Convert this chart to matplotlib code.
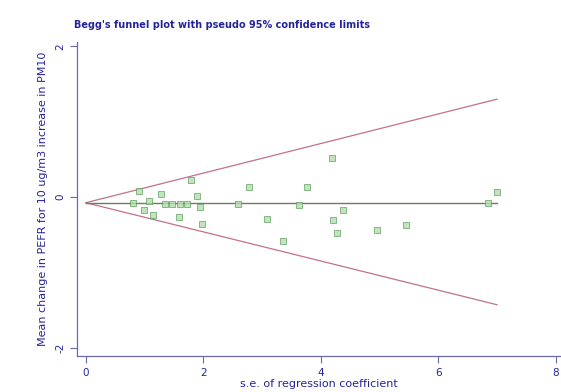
import matplotlib
matplotlib.use("Agg")
import matplotlib.pyplot as plt
import numpy as np

# Study data: standard error (x) and effect estimate (y)
se = [0.80, 0.90, 1.28, 1.07, 0.99, 1.14, 1.79, 1.89, 1.94, 1.58, 1.97,
      2.59, 2.77, 3.76, 3.63, 3.08, 3.35, 4.19, 4.37, 4.20, 4.27, 4.95,
      5.45, 6.84, 7.00, 1.34, 1.46, 1.60, 1.72]
effect = [-0.08, 0.08, 0.04, -0.05, -0.17, -0.24, 0.23, 0.01, -0.13, -0.27, -0.36,
          -0.09, 0.13, 0.13, -0.11, -0.29, -0.58, 0.52, -0.17, -0.31, -0.48, -0.44,
          -0.37, -0.08, 0.07, -0.09, -0.09, -0.09, -0.09]

pooled = -0.075
se_max = 7.0
upper_end = 1.30
lower_end = -1.43

xticks = [0, 2, 4, 6, 8]
yticks = [-2, 0, 2]

title = "Begg's funnel plot with pseudo 95% confidence limits"
xlabel = "s.e. of regression coefficient"
ylabel = "Mean change in PEFR for 10 ug/m3 increase in PM10"

text_c = "#24249a"
axis_c = "#6a6aa8"

fig = plt.figure(figsize=(5.61, 3.92), dpi=100)
ax = fig.add_axes([0.137, 0.092, 0.863, 0.801])

ax.plot([0, se_max], [pooled, upper_end], color="#c2708e", lw=0.9)
ax.plot([0, se_max], [pooled, lower_end], color="#c2708e", lw=0.9)
ax.plot([0, se_max], [pooled, pooled], color="#6e7d58", lw=1.0)

ax.scatter(se, effect, marker="s", s=13, facecolor="#b4dcae", edgecolor="#5a9e5a",
           linewidths=0.6, alpha=0.8, zorder=3)

ax.set_xlim(-0.153, 8.09)
ax.set_ylim(-2.11, 2.06)
ax.set_xticks(xticks)
ax.set_yticks(yticks)
ax.set_xticklabels([str(t) for t in xticks])
ax.set_yticklabels([str(t) for t in yticks], rotation=90, va="center")

for s in ["top", "right"]:
    ax.spines[s].set_visible(False)
for s in ["left", "bottom"]:
    ax.spines[s].set_color(axis_c)
    ax.spines[s].set_linewidth(0.9)
ax.tick_params(axis="both", colors=axis_c, labelcolor=text_c, labelsize=7.5,
               length=5, width=0.8, direction="out")

ax.set_xlabel(xlabel, color=text_c, fontsize=8, labelpad=1)
ax.set_ylabel(ylabel, color=text_c, fontsize=8, labelpad=5)

fig.text(0.132, 0.935, title, color=text_c, fontsize=7, fontweight="bold",
         ha="left", va="center")

fig.savefig("out.png", dpi=100)
